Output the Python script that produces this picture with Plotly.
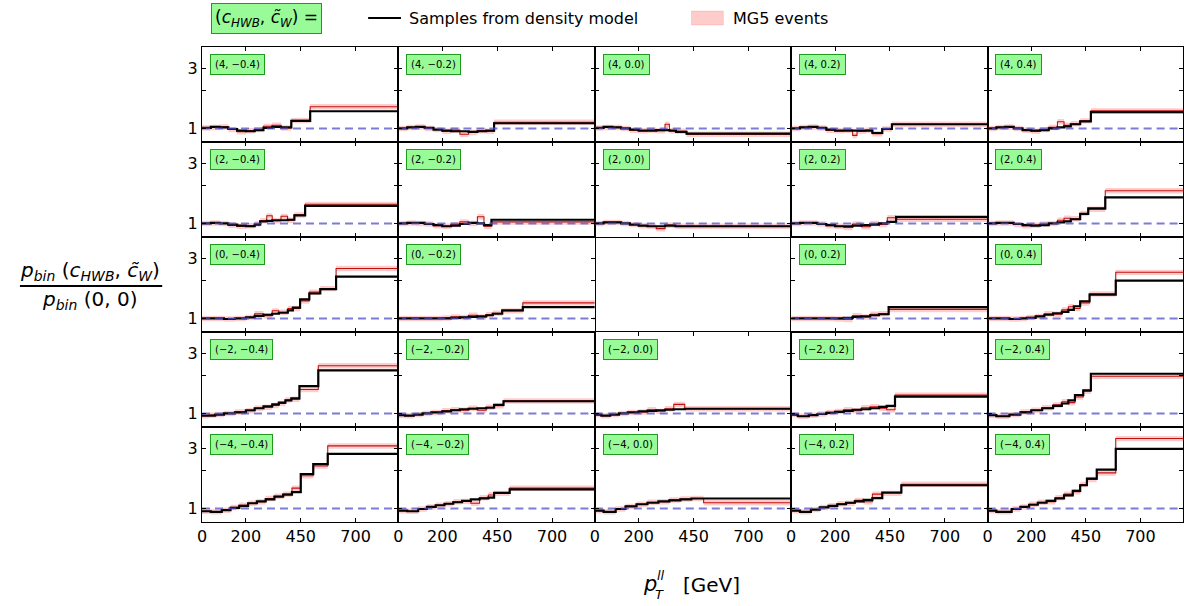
import math
import plotly.graph_objects as go
from plotly.subplots import make_subplots

# Grid of Wilson-coefficient points: rows are c_HWB, columns are c~_W
C_HWB = [4, 2, 0, -2, -4]
C_W = [-0.4, -0.2, 0.0, 0.2, 0.4]

# Bin edges (GeV), density-model ratio and MG5 ratio per panel, one list per c_W column
EDGES_HWB_P4 = [
    [0, 40, 80, 120, 160, 200, 240, 280, 320, 360, 407, 493, 895],
    [0, 40, 80, 120, 160, 200, 240, 280, 320, 360, 400, 436, 895],
    [0, 40, 80, 120, 160, 200, 240, 280, 320, 340, 370, 418, 895],
    [0, 40, 80, 120, 160, 200, 240, 280, 300, 340, 370, 415, 459, 895],
    [0, 40, 80, 120, 160, 200, 240, 280, 320, 350, 381, 424, 473, 895],
]
DENSITY_HWB_P4 = [
    [1.01, 1.03, 1.02, 0.99, 0.96, 0.95, 0.97, 1.01, 1.03, 1.02, 1.15, 1.37],
    [1.0, 1.02, 1.03, 1.01, 0.98, 0.96, 0.95, 0.95, 0.94, 0.95, 0.96, 1.10],
    [1.01, 1.03, 1.02, 1.0, 0.98, 0.96, 0.96, 0.97, 0.97, 0.96, 0.94, 0.91],
    [1.0, 1.02, 1.03, 1.01, 0.98, 0.96, 0.96, 0.96, 0.96, 0.96, 0.92, 0.99, 1.08],
    [1.0, 1.02, 1.03, 1.0, 0.97, 0.96, 0.97, 1.0, 1.02, 1.04, 1.08, 1.14, 1.35],
]
MG5_HWB_P4 = [
    [1.01, 1.02, 1.03, 0.98, 0.94, 0.96, 0.98, 1.04, 1.06, 1.01, 1.16, 1.49],
    [1.0, 1.02, 1.03, 1.0, 0.98, 0.95, 0.97, 0.90, 0.93, 0.96, 0.95, 1.12],
    [1.01, 1.02, 1.02, 1.0, 0.97, 0.96, 0.97, 0.96, 1.08, 0.96, 0.95, 0.90],
    [1.0, 1.02, 1.03, 1.01, 0.97, 0.96, 0.97, 0.88, 0.95, 0.97, 0.91, 0.99, 1.08],
    [1.0, 1.02, 1.03, 1.0, 0.97, 0.95, 0.98, 1.02, 1.13, 1.06, 1.09, 1.15, 1.38],
]

EDGES_HWB_P2 = [
    [0, 40, 80, 120, 160, 200, 240, 265, 295, 320, 360, 390, 421, 470, 895],
    [0, 40, 80, 120, 160, 200, 240, 280, 320, 360, 390, 424, 895],
    [0, 40, 80, 120, 160, 200, 240, 280, 320, 367, 895],
    [0, 40, 80, 120, 160, 200, 240, 280, 320, 360, 400, 438, 478, 895],
    [0, 40, 80, 120, 160, 200, 240, 280, 320, 350, 381, 424, 461, 539, 895],
]
DENSITY_HWB_P2 = [
    [1.0, 1.01, 1.0, 0.98, 0.96, 0.95, 0.98, 1.04, 1.05, 1.06, 1.06, 1.07, 1.16, 1.38],
    [1.0, 1.01, 1.01, 0.99, 0.97, 0.95, 0.96, 0.99, 1.01, 1.0, 0.97, 1.07],
    [1.0, 1.02, 1.02, 1.0, 0.98, 0.96, 0.95, 0.95, 0.96, 0.95],
    [1.0, 1.01, 1.01, 0.99, 0.97, 0.95, 0.95, 0.96, 0.97, 0.98, 1.0, 1.03, 1.13],
    [1.0, 1.01, 1.01, 0.99, 0.97, 0.96, 0.97, 1.0, 1.02, 1.04, 1.08, 1.19, 1.32, 1.61],
]
MG5_HWB_P2 = [
    [1.0, 1.01, 1.0, 0.97, 0.95, 0.96, 0.99, 1.05, 1.15, 1.05, 1.14, 1.06, 1.17, 1.42],
    [1.0, 1.01, 1.0, 0.99, 0.96, 0.95, 0.98, 1.03, 1.0, 1.13, 0.95, 1.03],
    [1.0, 1.02, 1.02, 1.0, 0.98, 0.96, 0.95, 0.91, 0.97, 0.95],
    [1.0, 1.01, 1.01, 0.99, 0.96, 0.95, 0.93, 0.99, 0.94, 1.0, 0.98, 1.11, 1.08],
    [1.0, 1.01, 1.01, 0.98, 0.96, 0.97, 0.99, 1.0, 1.06, 1.1, 1.09, 1.2, 1.30, 1.82],
]

EDGES_HWB_0 = [
    [0, 50, 100, 150, 200, 240, 280, 320, 350, 391, 414, 447, 489, 539, 611, 895],
    [0, 50, 100, 150, 200, 240, 280, 320, 360, 400, 430, 473, 567, 895],
    None,
    [0, 50, 100, 150, 200, 240, 280, 320, 360, 400, 444, 895],
    [0, 50, 100, 150, 180, 220, 260, 300, 340, 370, 395, 424, 467, 587, 895],
]
DENSITY_HWB_0 = [
    [1.0, 1.0, 0.99, 1.0, 1.02, 1.05, 1.07, 1.09, 1.11, 1.16, 1.22, 1.42, 1.58, 1.71, 2.15],
    [1.0, 1.0, 1.0, 1.0, 1.0, 1.01, 1.02, 1.03, 1.04, 1.06, 1.09, 1.16, 1.23],
    None,
    [1.0, 1.0, 1.0, 1.0, 1.0, 1.01, 1.03, 1.04, 1.06, 1.08, 1.23],
    [1.0, 1.0, 0.99, 1.0, 1.01, 1.04, 1.07, 1.1, 1.13, 1.17, 1.25, 1.37, 1.55, 2.0],
]
MG5_HWB_0 = [
    [1.0, 1.0, 0.99, 1.0, 1.02, 1.09, 1.05, 1.15, 1.12, 1.2, 1.2, 1.38, 1.62, 1.73, 2.50],
    [1.0, 1.0, 1.0, 1.0, 1.01, 1.03, 1.02, 1.06, 1.03, 1.07, 1.1, 1.15, 1.33],
    None,
    [1.0, 1.0, 1.0, 1.0, 0.99, 0.98, 1.05, 1.03, 1.08, 1.09, 1.18],
    [1.0, 1.0, 0.99, 1.0, 1.02, 1.04, 1.09, 1.08, 1.17, 1.24, 1.2, 1.33, 1.57, 2.33],
]

EDGES_HWB_M2 = [
    [0, 30, 60, 100, 150, 200, 240, 280, 320, 350, 380, 407, 444, 530, 895],
    [0, 30, 70, 110, 150, 200, 240, 280, 320, 360, 400, 436, 479, 895],
    [0, 30, 70, 110, 150, 200, 240, 280, 320, 360, 410, 895],
    [0, 30, 80, 120, 160, 200, 240, 280, 320, 360, 401, 435, 473, 895],
    [0, 40, 100, 150, 200, 250, 300, 340, 370, 400, 438, 473, 895],
]
DENSITY_HWB_M2 = [
    [0.96, 0.96, 0.98, 1.0, 1.02, 1.06, 1.1, 1.14, 1.18, 1.22, 1.27, 1.32, 1.65, 2.2],
    [0.97, 0.96, 0.98, 1.0, 1.02, 1.04, 1.06, 1.08, 1.09, 1.1, 1.11, 1.17, 1.25],
    [0.98, 0.96, 0.98, 1.0, 1.02, 1.04, 1.05, 1.06, 1.07, 1.08, 1.09],
    [0.98, 0.95, 0.97, 0.99, 1.01, 1.03, 1.05, 1.07, 1.08, 1.1, 1.13, 1.15, 1.36],
    [0.97, 0.95, 0.98, 1.02, 1.06, 1.1, 1.15, 1.2, 1.27, 1.4, 1.53, 2.07],
]
MG5_HWB_M2 = [
    [0.96, 0.97, 0.98, 1.0, 1.03, 1.05, 1.1, 1.12, 1.16, 1.2, 1.28, 1.3, 1.55, 2.4],
    [0.97, 0.96, 0.98, 1.0, 1.02, 1.05, 1.07, 1.06, 1.1, 1.06, 1.12, 1.15, 1.26],
    [0.98, 0.96, 0.98, 1.0, 1.02, 1.03, 1.07, 1.04, 1.09, 1.18, 1.09],
    [0.98, 0.95, 0.97, 0.99, 1.02, 1.04, 1.07, 1.05, 1.11, 1.13, 1.1, 1.07, 1.40],
    [0.97, 0.95, 0.98, 1.03, 1.06, 1.11, 1.17, 1.24, 1.22, 1.35, 1.5, 1.98],
]

EDGES_HWB_M4 = [
    [0, 40, 90, 130, 170, 210, 250, 290, 330, 370, 410, 450, 507, 573, 895],
    [0, 40, 90, 130, 170, 210, 250, 290, 330, 370, 410, 436, 507, 895],
    [0, 40, 95, 140, 190, 240, 290, 340, 390, 440, 496, 895],
    [0, 40, 90, 130, 170, 210, 250, 290, 330, 370, 415, 502, 895],
    [0, 40, 110, 150, 190, 230, 270, 310, 350, 390, 424, 455, 500, 587, 895],
]
DENSITY_HWB_M4 = [
    [0.95, 0.94, 0.97, 1.01, 1.05, 1.1, 1.14, 1.18, 1.24, 1.29, 1.35, 1.88, 2.25, 2.72],
    [0.96, 0.95, 0.99, 1.03, 1.06, 1.09, 1.12, 1.15, 1.18, 1.2, 1.22, 1.33, 1.42],
    [0.96, 0.94, 0.99, 1.04, 1.08, 1.11, 1.14, 1.16, 1.18, 1.2, 1.2],
    [0.96, 0.94, 0.98, 1.02, 1.05, 1.08, 1.11, 1.14, 1.17, 1.21, 1.34, 1.53],
    [0.96, 0.94, 0.99, 1.03, 1.07, 1.11, 1.15, 1.2, 1.27, 1.38, 1.53, 1.73, 2.04, 2.98],
]
MG5_HWB_M4 = [
    [0.95, 0.94, 0.97, 1.02, 1.06, 1.1, 1.13, 1.2, 1.25, 1.3, 1.45, 1.82, 2.18, 3.15],
    [0.96, 0.95, 0.99, 1.03, 1.06, 1.09, 1.13, 1.14, 1.1, 1.22, 1.28, 1.32, 1.45],
    [0.96, 0.94, 0.99, 1.04, 1.08, 1.12, 1.13, 1.17, 1.19, 1.2, 1.11],
    [0.96, 0.94, 0.98, 1.02, 1.05, 1.09, 1.1, 1.16, 1.13, 1.3, 1.32, 1.56],
    [0.96, 0.94, 0.99, 1.03, 1.08, 1.12, 1.13, 1.22, 1.3, 1.36, 1.55, 1.7, 1.92, 3.6],
]

# Relative statistical uncertainty of the MG5 histograms (band half-width)
MG5_REL_UNC = 0.05

X_TICKS = [0, 200, 450, 700]
X_MAX = 895
Y_TICKS = [1, 3]
Y_MINOR_TICKS = [2]
Y_MIN, Y_MAX = 0.78, 4.45

EDGES = [EDGES_HWB_P4, EDGES_HWB_P2, EDGES_HWB_0, EDGES_HWB_M2, EDGES_HWB_M4]
DENSITY = [DENSITY_HWB_P4, DENSITY_HWB_P2, DENSITY_HWB_0, DENSITY_HWB_M2, DENSITY_HWB_M4]
MG5 = [MG5_HWB_P4, MG5_HWB_P2, MG5_HWB_0, MG5_HWB_M2, MG5_HWB_M4]

W, H = 1184, 606
FONT = "DejaVu Sans"
GRID_L, GRID_R, GRID_T, GRID_B = 198, 1185, 47, 522
NROW, NCOL = 5, 5
cw = (GRID_R - GRID_L) / NCOL
rh = (GRID_B - GRID_T) / NROW

BAND = "rgba(255,0,0,0.2)"
RED = "#c21010"
REF_LINE = "rgba(80,80,200,0.75)"
BOX_FILL = "#98fb98"
BOX_EDGE = "#1f9a1f"


def px_x(p):
    return p / W


def px_y(p):
    return 1 - p / H


def fmt(v, decimals):
    s = f"{v:.{decimals}f}" if decimals else f"{v:d}"
    return s.replace("-", "\u2212")


def step_y(vals):
    return list(vals) + [vals[-1]]


fig = make_subplots(rows=NROW, cols=NCOL, horizontal_spacing=0, vertical_spacing=0)

annotations = []
for r in range(NROW):
    for c in range(NCOL):
        n = r * NCOL + c + 1
        xa = "x" if n == 1 else f"x{n}"
        ya = "y" if n == 1 else f"y{n}"
        edges = EDGES[r][c]
        if edges is not None:
            dens = DENSITY[r][c]
            mg5 = MG5[r][c]
            assert len(dens) == len(edges) - 1 and len(mg5) == len(edges) - 1
            lo = [v * (1 - MG5_REL_UNC) for v in mg5]
            hi = [v * (1 + MG5_REL_UNC) for v in mg5]
            fig.add_trace(go.Scatter(x=edges, y=step_y(lo), mode="lines",
                                     line=dict(width=0, shape="hv"),
                                     showlegend=False, hoverinfo="skip"),
                          row=r + 1, col=c + 1)
            fig.add_trace(go.Scatter(x=edges, y=step_y(hi), mode="lines",
                                     line=dict(width=0, shape="hv"),
                                     fill="tonexty", fillcolor=BAND,
                                     name="MG5 events", showlegend=False, hoverinfo="skip"),
                          row=r + 1, col=c + 1)
            fig.add_trace(go.Scatter(x=edges, y=step_y(mg5), mode="lines",
                                     line=dict(width=1.1, color=RED, shape="hv"),
                                     name="MG5 events", showlegend=False),
                          row=r + 1, col=c + 1)
            fig.add_trace(go.Scatter(x=edges, y=step_y(dens), mode="lines",
                                     line=dict(width=2.2, color="black", shape="hv"),
                                     name="Samples from density model", showlegend=False),
                          row=r + 1, col=c + 1)
            fig.add_trace(go.Scatter(x=[0, X_MAX], y=[1, 1], mode="lines",
                                     line=dict(width=2, color=REF_LINE, dash="8px,5px"),
                                     showlegend=False, hoverinfo="skip"),
                          row=r + 1, col=c + 1)
            label = f"({fmt(C_HWB[r], 0)}, {fmt(C_W[c], 1)})"
            annotations.append(dict(
                text=label, xref=f"{xa} domain", yref=f"{ya} domain",
                x=0.04, y=0.93, xanchor="left", yanchor="top", showarrow=False,
                font=dict(family=FONT, size=10, color="black"),
                bgcolor=BOX_FILL, bordercolor=BOX_EDGE, borderwidth=1, borderpad=4))

        x0 = GRID_L + c * cw
        y0 = GRID_T + r * rh
        axis_common = dict(showline=True, linecolor="black", linewidth=1, mirror="allticks",
                           ticks="inside", ticklen=4, tickwidth=1, tickcolor="black",
                           showgrid=False, zeroline=False,
                           tickfont=dict(family=FONT, size=16, color="black"))
        fig.update_xaxes(row=r + 1, col=c + 1,
                         domain=[px_x(x0), min(1.0, px_x(x0 + cw))],
                         range=[0, X_MAX], tickvals=X_TICKS,
                         ticktext=[str(t) for t in X_TICKS],
                         showticklabels=(r == NROW - 1), **axis_common)
        fig.update_yaxes(row=r + 1, col=c + 1,
                         domain=[px_y(y0 + rh), px_y(y0)],
                         type="log", range=[math.log10(Y_MIN), math.log10(Y_MAX)],
                         tickvals=Y_TICKS, ticktext=[str(t) for t in Y_TICKS],
                         minor=dict(tickvals=Y_MINOR_TICKS, ticks="inside", ticklen=4,
                                    tickwidth=1, tickcolor="black", showgrid=False),
                         showticklabels=(c == 0), **axis_common)

# Header box naming the coefficient pair
annotations.append(dict(
    text="(<i>c</i><sub><i>HWB</i></sub>, <i>c\u0303</i><sub><i>W</i></sub>) =",
    xref="paper", yref="paper", x=px_x(207), y=px_y(19), xanchor="left", yanchor="middle",
    showarrow=False, font=dict(family=FONT, size=17, color="black"),
    bgcolor=BOX_FILL, bordercolor=BOX_EDGE, borderwidth=1, borderpad=3))

# Legend entries
annotations += [
    dict(text="Samples from density model", xref="paper", yref="paper",
         x=px_x(404), y=px_y(18), xanchor="left", yanchor="middle", showarrow=False,
         font=dict(family=FONT, size=16, color="black")),
    dict(text="MG5 events", xref="paper", yref="paper",
         x=px_x(730), y=px_y(18), xanchor="left", yanchor="middle", showarrow=False,
         font=dict(family=FONT, size=16, color="black")),
]
legend_shapes = [
    dict(type="line", xref="paper", yref="paper",
         x0=px_x(365), x1=px_x(398), y0=px_y(18), y1=px_y(18),
         line=dict(color="black", width=2.2)),
    dict(type="rect", xref="paper", yref="paper",
         x0=px_x(690), x1=px_x(722), y0=px_y(25), y1=px_y(11),
         fillcolor=BAND, line=dict(color="rgba(255,0,0,0.12)", width=1)),
]

# y-axis title as a fraction
annotations.append(dict(
    text="<i>p</i><sub><i>bin</i></sub> (<i>c</i><sub><i>HWB</i></sub>, <i>c\u0303</i><sub><i>W</i></sub>)",
    xref="paper", yref="paper", x=px_x(85), y=px_y(271), xanchor="center", yanchor="middle",
    showarrow=False, font=dict(family=FONT, size=20, color="black")))
annotations.append(dict(
    text="<i>p</i><sub><i>bin</i></sub> (0, 0)",
    xref="paper", yref="paper", x=px_x(85), y=px_y(300), xanchor="center", yanchor="middle",
    showarrow=False, font=dict(family=FONT, size=20, color="black")))

# x-axis title p_T^ll [GeV]
annotations += [
    dict(text="<i>p</i>", xref="paper", yref="paper", x=px_x(639), y=px_y(584),
         xanchor="left", yanchor="middle", showarrow=False,
         font=dict(family=FONT, size=21, color="black")),
    dict(text="<i>ll</i>", xref="paper", yref="paper", x=px_x(653), y=px_y(575),
         xanchor="left", yanchor="middle", showarrow=False,
         font=dict(family=FONT, size=13, color="black")),
    dict(text="<i>T</i>", xref="paper", yref="paper", x=px_x(651), y=px_y(594),
         xanchor="left", yanchor="middle", showarrow=False,
         font=dict(family=FONT, size=13, color="black")),
    dict(text="[GeV]", xref="paper", yref="paper", x=px_x(679), y=px_y(585),
         xanchor="left", yanchor="middle", showarrow=False,
         font=dict(family=FONT, size=20, color="black")),
]

fig.update_layout(
    width=W, height=H,
    margin=dict(l=0, r=0, t=0, b=0),
    paper_bgcolor="white", plot_bgcolor="white",
    font=dict(family=FONT, color="black"),
    annotations=annotations,
    shapes=[dict(type="line", xref="paper", yref="paper",
                 x0=px_x(15), x1=px_x(158), y0=px_y(286), y1=px_y(286),
                 line=dict(color="black", width=2))] + legend_shapes,
    showlegend=False,
)

fig.write_html("out.html")
